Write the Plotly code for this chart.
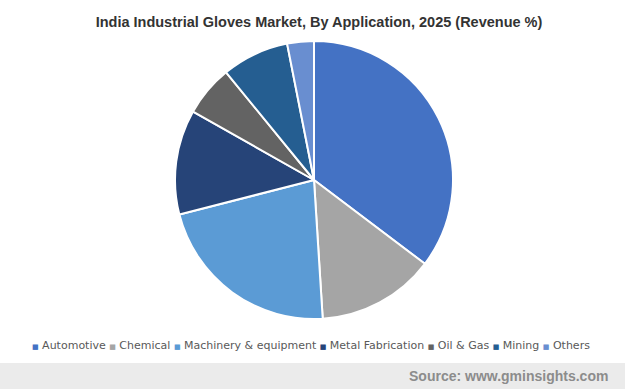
import plotly.graph_objects as go

categories = ["Automotive", "Chemical", "Machinery & equipment", "Metal Fabrication", "Oil & Gas", "Mining", "Others"]
values = [35.3, 13.7, 22.0, 12.2, 5.9, 7.8, 3.1]
colors = ["#4472C4", "#A5A5A5", "#5B9BD5", "#264478", "#636363", "#255E91", "#698ED0"]

W, H = 625, 389
cx, cy, r = 314, 180, 139

fig = go.Figure(go.Pie(
    labels=categories, values=values, sort=False, direction="clockwise", rotation=0,
    marker=dict(colors=colors, line=dict(color="white", width=2)),
    textinfo="none", hoverinfo="label+percent", showlegend=False,
    domain=dict(x=[(cx - r) / W, (cx + r) / W], y=[1 - (cy + r) / H, 1 - (cy - r) / H]),
))

legend_text = "&nbsp;".join(
    f'<span style="color:{c};font-size:7px">■</span> {name}' for name, c in zip(categories, colors)
)

fig.update_layout(
    width=W, height=H, margin=dict(l=0, r=0, t=0, b=0),
    paper_bgcolor="white", plot_bgcolor="white",
    title=dict(text="<b>India Industrial Gloves Market, By Application, 2025 (Revenue %)</b>",
               x=319 / W, xanchor="center", y=1 - 22 / H, yanchor="middle",
               font=dict(family="Liberation Sans, Arial", size=14.5, color="#333333")),
    shapes=[dict(type="rect", xref="paper", yref="paper", x0=0, x1=1, y0=0, y1=(H - 363) / H,
                 fillcolor="#EBEBEB", line=dict(width=0), layer="below")],
    annotations=[
        dict(text=legend_text, xref="paper", yref="paper", x=311 / W, xanchor="center",
             y=1 - 345 / H, yanchor="middle", showarrow=False,
             font=dict(family="DejaVu Sans, Verdana", size=11, color="#595959")),
        dict(text="<b>Source: www.gminsights.com</b>", xref="paper", yref="paper",
             x=610 / W, xanchor="right", y=(H - 376) / H, yanchor="middle", showarrow=False,
             font=dict(family="Liberation Sans, Arial", size=14, color="#8C8C8C")),
    ],
)

fig.write_html("out.html", config={"displayModeBar": False},
               post_script="document.body.style.margin='0';")
